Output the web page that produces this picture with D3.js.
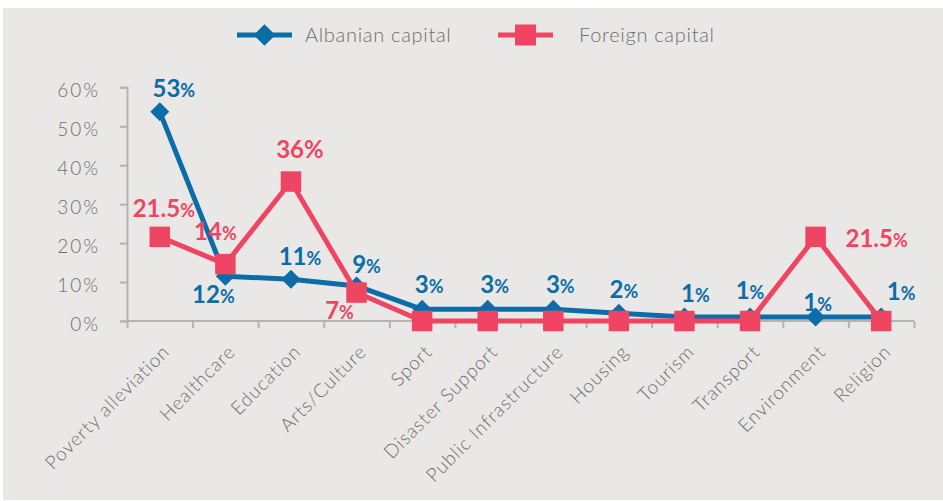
<!DOCTYPE html>
<html>
<head>
<meta charset="utf-8">
<script src="https://cdn.jsdelivr.net/npm/d3@7"></script>
<style>
  body { margin: 0; background: #fff; }
  svg text { font-family: Lato, "Open Sans", sans-serif; }
</style>
</head>
<body>
<svg id="chart" width="943" height="501"></svg>
<script>
const categories = ["Poverty alleviation", "Healthcare", "Education", "Arts/Culture", "Sport",
  "Disaster Support", "Public Infrastructure", "Housing", "Tourism", "Transport", "Environment", "Religion"];

const albanian = [53.7, 11.5, 10.7, 9, 3, 3, 3, 2, 1, 1, 1, 1];
const albanianLabels = ["53", "12", "11", "9", "3", "3", "3", "2", "1", "1", "1", "1"];

const foreign = [21.6, 14.6, 35.8, 7.3, 0, 0, 0, 0, 0, 0, 21.6, 0];
const foreignLabels = ["21.5", "14", "36", "7", "", "", "", "", "", "", "21.5", ""];

const yTicks = [0, 10, 20, 30, 40, 50, 60];
const seriesNames = ["Albanian capital", "Foreign capital"];

const blue = "#0b6da8";
const pink = "#f04562";
const axisGray = "#b3b3b3";
const textGray = "#6f6f6f";

const svg = d3.select("#chart");

// background panel
svg.append("rect")
  .attr("x", 3).attr("y", 8)
  .attr("width", 940).attr("height", 492)
  .attr("fill", "#e9e8e6");

const x = d3.scaleBand().domain(categories).range([127, 914]).padding(0);
const xEdge = d3.scaleLinear().domain([0, categories.length]).range([127, 914]);
const y = d3.scaleLinear().domain([0, 60]).range([321, 87.3]);
const cx = d => x(d) + x.bandwidth() / 2;

// y axis
const yAxis = svg.append("g")
  .attr("transform", "translate(127,0)")
  .call(d3.axisLeft(y).tickValues(yTicks).tickSize(7).tickPadding(20).tickFormat(d => d + "%"));
yAxis.select(".domain").attr("stroke", axisGray).attr("stroke-width", 2);
yAxis.selectAll(".tick line").attr("stroke", axisGray).attr("stroke-width", 2);
yAxis.selectAll(".tick text")
  .attr("fill", textGray).attr("font-size", 19).attr("font-weight", 300)
  .attr("letter-spacing", 2).attr("y", 3);

// x axis: ticks at category boundaries
const xAxis = svg.append("g")
  .attr("transform", "translate(0,321)")
  .call(d3.axisBottom(xEdge).tickValues(d3.range(categories.length + 1)).tickSize(7).tickFormat(""));
xAxis.select(".domain").attr("stroke", axisGray).attr("stroke-width", 2).attr("d", "M127,0H914");
xAxis.selectAll(".tick line").attr("stroke", axisGray).attr("stroke-width", 2);

// rotated category labels
const xLabels = svg.append("g")
  .attr("transform", "translate(0,321)")
  .call(d3.axisBottom(x).tickSize(0).tickPadding(0));
xLabels.select(".domain").remove();
xLabels.selectAll(".tick text")
  .attr("fill", textGray)
  .attr("font-size", 19)
  .attr("font-weight", 300)
  .attr("letter-spacing", 0.9)
  .attr("text-anchor", "end")
  .attr("dy", 0)
  .attr("y", 0)
  .attr("transform", "translate(11,32) rotate(-45)");

const line = d3.line().x(d => cx(d.cat)).y(d => y(d.v));

function series(values) {
  return categories.map((c, i) => ({ cat: c, v: values[i], i }));
}

const blueData = series(albanian);
const pinkData = series(foreign);

svg.append("path").datum(blueData)
  .attr("d", line).attr("fill", "none")
  .attr("stroke", blue).attr("stroke-width", 5).attr("stroke-linejoin", "round");

svg.selectAll(".diamond").data(blueData).enter().append("path")
  .attr("class", "diamond")
  .attr("d", d3.symbol(d3.symbolSquare, 180))
  .attr("transform", d => `translate(${cx(d.cat)},${y(d.v)}) rotate(45)`)
  .attr("fill", blue);

svg.append("path").datum(pinkData)
  .attr("d", line).attr("fill", "none")
  .attr("stroke", pink).attr("stroke-width", 5).attr("stroke-linejoin", "round");

svg.selectAll(".square").data(pinkData).enter().append("path")
  .attr("class", "square")
  .attr("d", d3.symbol(d3.symbolSquare, 420))
  .attr("transform", d => `translate(${cx(d.cat)},${y(d.v)})`)
  .attr("fill", pink);

// data label offsets [dx, dy] from the marker (centre x, baseline y)
const bluePos = [[14, -15], [-12, 27], [9, -14], [10, -13], [7, -16], [7, -16], [7, -16],
  [5, -15], [11, -15], [0, -18], [2, -6], [20, -17]];
const pinkPos = [[4, -20], [-10, -24], [9, -24], [-17, 26], null, null, null, null, null, null,
  [61, 10], null];

function addLabels(data, labels, pos, color) {
  data.forEach((d, i) => {
    if (!labels[i]) return;
    const p = pos[i];
    const t = svg.append("text")
      .attr("x", cx(d.cat) + p[0])
      .attr("y", y(d.v) + p[1])
      .attr("text-anchor", "middle")
      .attr("fill", color)
      .attr("font-weight", 700);
    t.append("tspan").attr("font-size", 24).text(labels[i]);
    t.append("tspan").attr("font-size", labels[i] === "36" ? 24 : 18).text("%");
  });
}

addLabels(blueData, albanianLabels, bluePos, blue);
addLabels(pinkData, foreignLabels, pinkPos, pink);

// legend
const legend = svg.append("g");
const legendItems = [
  { name: seriesNames[0], color: blue, x0: 237, textX: 305, diamond: true },
  { name: seriesNames[1], color: pink, x0: 498, textX: 579, diamond: false }
];
legendItems.forEach(item => {
  legend.append("line")
    .attr("x1", item.x0).attr("x2", item.x0 + 55)
    .attr("y1", 35).attr("y2", 35)
    .attr("stroke", item.color).attr("stroke-width", 5);
  legend.append("path")
    .attr("d", d3.symbol(d3.symbolSquare, item.diamond ? 235 : 441))
    .attr("transform", `translate(${item.x0 + 27.5},35)` + (item.diamond ? " rotate(45)" : ""))
    .attr("fill", item.color);
  legend.append("text")
    .attr("x", item.textX).attr("y", 42)
    .attr("fill", textGray)
    .attr("font-size", 20)
    .attr("font-weight", 300)
    .attr("letter-spacing", 0.7)
    .text(item.name);
});
</script>
</body>
</html>
